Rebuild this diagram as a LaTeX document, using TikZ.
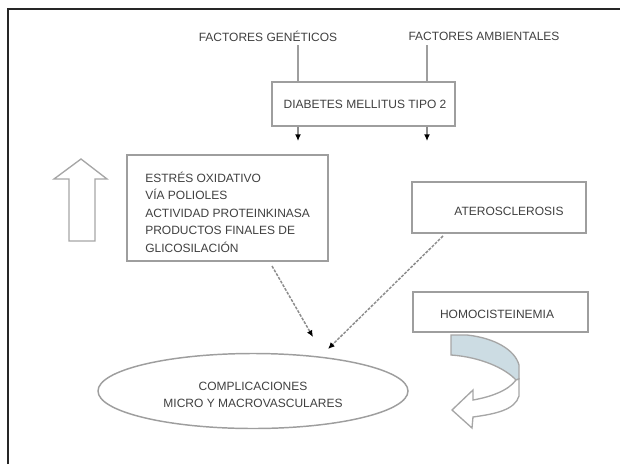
\documentclass[tikz,border=0pt]{standalone}
\usepackage{fontspec}
\setmainfont{Liberation Sans}
\usetikzlibrary{arrows.meta,shapes.geometric}
\definecolor{bandblue}{HTML}{CCDCE3}
\begin{document}
\begin{tikzpicture}[x=0.75pt,y=-0.75pt,
  box/.style={draw=black!38, line width=1.1pt, inner sep=0pt, fill=white},
  lbl/.style={font=\fontsize{9}{13.1}\selectfont, text=black!75, inner sep=0pt},
  conn/.style={draw=black!38, line width=1.1pt},
  tipconn/.style={draw=black!45, line width=1.1pt, -{Latex[length=5pt,width=4.5pt,color=black]}},
  dotconn/.style={draw=black!45, line width=1.1pt, dash pattern=on 2.2pt off 1pt, -{Latex[length=5pt,width=4.5pt,color=black]}},
  shapeline/.style={draw=black!35, line width=1pt, line join=miter}
]
\useasboundingbox (0,0) rectangle (620,464);
% frame (top and left)
\draw[black!85, line width=1.4pt] (8,464) -- (8,9) -- (620,9);

% top factors
\node[lbl] (gen) at (268,36) {FACTORES GENÉTICOS};
\node[lbl] (amb) at (484,36) {FACTORES AMBIENTALES};

% diabetes box
\node[box, minimum width=137.25pt, minimum height=33pt] (dia) at (363.5,104) {};
\node[lbl] (diat) at (365,104) {DIABETES MELLITUS TIPO 2};

\coordinate (xg) at (298,45);
\coordinate (xa) at (427,45);
\draw[conn] (xg) -- (xg |- dia.north);
\draw[conn] (xa) -- (xa |- dia.north);

\coordinate (dg) at (298,141);
\coordinate (da) at (427,141);
\draw[tipconn] (dg |- dia.south) -- (dg);
\draw[tipconn] (da |- dia.south) -- (da);

% oxidative stress box
\node[box, minimum width=150.75pt, minimum height=79.5pt] (ox) at (227.5,208) {};
\node[lbl, align=left, anchor=west] (oxt) at (145,212) {ESTRÉS OXIDATIVO\\VÍA POLIOLES\\ACTIVIDAD PROTEINKINASA\\PRODUCTOS FINALES DE\\GLICOSILACIÓN};

% atherosclerosis box
\node[box, minimum width=130.5pt, minimum height=38.25pt] (ate) at (499,207.5) {};
\node[lbl] (atet) at (509,211) {ATEROSCLEROSIS};

% homocysteinemia box
\node[box, minimum width=131.25pt, minimum height=30pt] (hom) at (500.5,312) {};
\node[lbl] (homt) at (497,314) {HOMOCISTEINEMIA};

% complications ellipse
\node[ellipse, draw=black!38, line width=1.1pt, minimum width=232.5pt, minimum height=56.25pt, inner sep=0pt] (ell) at (253,391) {};
\node[lbl, align=center, font=\fontsize{9}{12.75}\selectfont] (ellt) at (253,394.5) {COMPLICACIONES\\MICRO Y MACROVASCULARES};

% dotted connectors
\coordinate (o1) at (272,266);
\coordinate (e1) at (313,337);
\coordinate (a1) at (443,236);
\coordinate (e2) at (328,349);
\draw[dotconn] (o1) -- (e1);
\draw[dotconn] (a1) -- (e2);

% up block arrow
\draw[shapeline, fill=white] (81,159) -- (107,179) -- (95,179) -- (95,241) -- (69,241) -- (69,179) -- (54,179) -- cycle;

% curved arrow
\draw[shapeline, fill=bandblue] (451,335) -- (467,335) .. controls (495,338) and (515,350) .. (519,365) -- (519,379) -- (516,380) .. controls (505,368) and (480,357) .. (451,355) -- cycle;
\draw[shapeline, fill=white] (516,380) .. controls (508,391) and (490,397) .. (473,400) -- (473,390) -- (452,410) -- (472,428) -- (473,417) .. controls (495,414) and (515,410) .. (519,396) -- (519,379) -- cycle;
\end{tikzpicture}
\end{document}
